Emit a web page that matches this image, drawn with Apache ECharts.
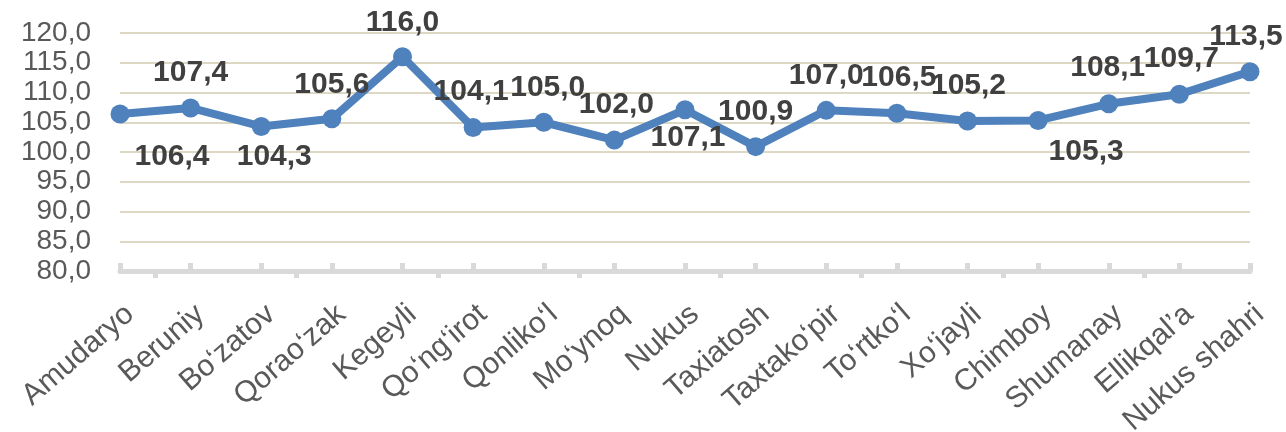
<!DOCTYPE html>
<html>
<head>
<meta charset="utf-8">
<script src="https://cdn.jsdelivr.net/npm/echarts@6/dist/echarts.min.js"></script>
<style>
  html, body { margin: 0; padding: 0; background: #fff; }
  #chart { width: 1286px; height: 432px; }
</style>
</head>
<body>
<div id="chart"></div>
<script>
const categories = ['Amudaryo', 'Beruniy', 'Bo\u2018zatov', 'Qorao\u2018zak', 'Kegeyli', 'Qo\u2018ng\u2018irot',
  'Qonliko\u2018l', 'Mo\u2018ynoq', 'Nukus', 'Taxiatosh', 'Taxtako\u2018pir', 'To\u2018rtko\u2018l',
  'Xo\u2018jayli', 'Chimboy', 'Shumanay', 'Ellikqal\u2019a', 'Nukus shahri'];
const values = [106.4, 107.4, 104.3, 105.6, 116.0, 104.1, 105.0, 102.0, 107.1, 100.9, 107.0, 106.5, 105.2, 105.3, 108.1, 109.7, 113.5];
const yTicks = [80, 85, 90, 95, 100, 105, 110, 115, 120];

// label offsets (px) from each point, as placed in the original
const labelOffsets = [[52, 43], [0, -35], [13, 30], [0, -34], [0, -34], [-2, -36], [4, -35], [2, -35], [3, 28],
  [0, -35], [0, -35], [2, -36], [1, -35], [48, 31], [-1, -36], [2, -36], [-4, -35]];

const fmt = (v) => v.toFixed(1).replace('.', ',');
const font = 'Liberation Sans, Arial, sans-serif';

const chart = echarts.init(document.getElementById('chart'), null, { renderer: 'canvas' });

chart.setOption({
  backgroundColor: '#fff',
  animation: false,
  grid: { left: 120, right: 36, top: 33, bottom: 161, containLabel: false, outerBoundsMode: 'none' },
  xAxis: [{
    type: 'category',
    data: categories,
    boundaryGap: false,
    axisLine: { show: true, lineStyle: { color: '#d9d9d9', width: 5 } },
    axisTick: { show: true, inside: true, length: 8, lineStyle: { color: '#d9d9d9', width: 5 } },
    axisLabel: {
      rotate: 41, margin: 28, fontSize: 30, color: '#595959',
      fontFamily: font, interval: 0, align: 'right', verticalAlign: 'top'
    },
    splitLine: { show: false }
  }, {
    // second axis only for the downward ticks halfway between points
    type: 'category',
    data: categories.slice(1),
    position: 'bottom',
    boundaryGap: true,
    axisLine: { show: false },
    axisTick: { show: true, inside: false, alignWithLabel: true, length: 7, lineStyle: { color: '#d9d9d9', width: 5 } },
    axisLabel: { show: false },
    splitLine: { show: false }
  }],
  yAxis: {
    type: 'value',
    min: yTicks[0],
    max: yTicks[yTicks.length - 1],
    interval: 5,
    axisLine: { show: false },
    axisTick: { show: false },
    axisLabel: {
      fontSize: 28, color: '#595959', margin: 29,
      fontFamily: font,
      formatter: (v) => fmt(v)
    },
    splitLine: { show: true, lineStyle: { color: '#dcd8c4', width: 2 } }
  },
  series: [{
    type: 'line',
    data: values.map((v, i) => ({
      value: v,
      label: { offset: labelOffsets[i] }
    })),
    lineStyle: { color: '#4f81bd', width: 8 },
    itemStyle: { color: '#4f81bd' },
    symbol: 'circle',
    symbolSize: 19,
    label: {
      show: true,
      position: 'inside',
      fontSize: 30,
      fontWeight: 'bold',
      color: '#404040',
      fontFamily: font,
      formatter: (p) => fmt(p.value)
    }
  }]
});
</script>
</body>
</html>
